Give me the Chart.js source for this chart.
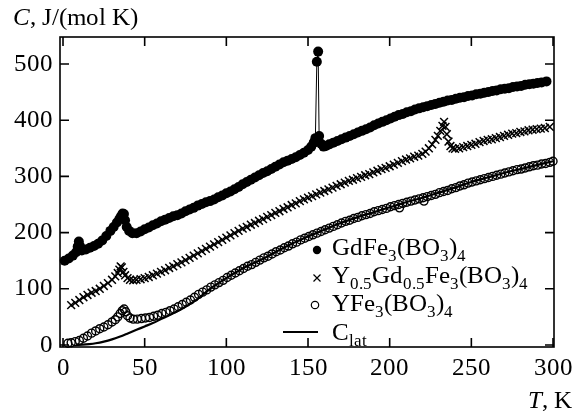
<!DOCTYPE html>
<html>
<head>
<meta charset="utf-8">
<script src="https://cdn.jsdelivr.net/npm/chart.js@4.4.0/dist/chart.umd.min.js"></script>
<style>
  @font-face { font-family: 'ChartSerif'; font-style: normal; src: local('Liberation Serif'), local('LiberationSerif'); }
  @font-face { font-family: 'ChartSerif'; font-style: italic; src: local('Liberation Serif Italic'), local('LiberationSerif-Italic'); }
  html, body { margin: 0; padding: 0; background: #fff; }
  #prime { position: absolute; left: 0; top: 0; font-family: 'ChartSerif'; font-size: 25px; color: #fff; z-index: -1; }
</style>
</head>
<body>
<span id="prime">0 <i>C</i></span>
<canvas id="heatChart" width="579" height="417"></canvas>
<script>
// tick labels
const xTicks = [0, 50, 100, 150, 200, 250, 300];
const yTicks = [0, 100, 200, 300, 400, 500];

// GdFe3(BO3)4
const tGd = [1, 3.5, 6, 8, 9, 9.7, 10.4, 11.5, 14, 16.5, 19, 21.5, 24, 26.5, 29, 31, 33, 34.5, 35.5, 36.5, 37.3, 38, 39, 40.5, 42.5,
  45, 47.5, 50, 52.5, 55, 57.5, 60, 62.5, 65, 67.5, 70, 72.5, 75, 77.5, 80, 82.5, 85, 87.5, 90, 92.5, 95, 97.5, 100,
  102.5, 105, 107.5, 110, 112.5, 115, 117.5, 120, 122.5, 125, 127.5, 130, 132.5, 135, 137.5, 140, 142.5, 145, 147.5, 150,
  152, 153.5, 154.5, 155.4, 156.2, 156.8, 158, 159.5, 161, 163, 165.5, 168, 170.5, 173, 175.5, 178, 180.5, 183, 185.5, 188,
  190.5, 193, 195.5, 198, 200.5, 203, 205.5, 208, 210.5, 213, 215.5, 218, 220.5, 223, 225.5, 228, 230.5, 233, 235.5, 238,
  240.5, 243, 245.5, 248, 250.5, 253, 255.5, 258, 260.5, 263, 265.5, 268, 270.5, 273, 275.5, 278, 280.5, 283, 285.5, 288,
  290.5, 293, 296];
const cGd = [150, 154, 159, 165, 175, 184, 176, 168, 170, 173, 176, 180, 186, 194, 203, 210, 218, 224, 229, 234, 233, 222, 210, 203, 199,
  199, 202, 206, 209, 213, 216, 220, 223, 226, 229, 231, 234, 238, 241, 244, 248, 251, 254, 256, 259, 263, 266, 270,
  273, 277, 281, 286, 290, 294, 298, 302, 306, 309, 313, 317, 321, 325, 328, 331, 334, 338, 342, 347,
  353, 360, 368, 504, 522, 372, 358, 353, 354, 357, 360, 363, 366, 369, 372, 375, 378, 381, 384, 387,
  391, 394, 397, 400, 403, 406, 409, 411, 414, 416, 419, 421, 423, 425, 427, 429, 431, 433, 435, 436,
  438, 440, 441, 443, 444, 446, 447, 449, 450, 452, 453, 455, 456, 457, 459, 460, 461, 463, 464, 465,
  466, 467, 469];

// Y0.5Gd0.5Fe3(BO3)4
const tMix = [5, 7.5, 10, 12.5, 15, 17.5, 20, 22.5, 25, 27.5, 30, 32, 33.5, 34.5, 35.3, 36, 37, 38, 39.5, 41, 43, 45, 47.5, 50,
  52.5, 55, 57.5, 60, 62.5, 65, 67.5, 70, 72.5, 75, 77.5, 80, 82.5, 85, 87.5, 90, 92.5, 95, 97.5, 100,
  102.5, 105, 107.5, 110, 112.5, 115, 117.5, 120, 122.5, 125, 127.5, 130, 132.5, 135, 137.5, 140, 142.5, 145, 147.5, 150,
  152.5, 155, 157.5, 160, 162.5, 165, 167.5, 170, 172.5, 175, 177.5, 180, 182.5, 185, 187.5, 190, 192.5, 195, 197.5, 200,
  202.5, 205, 207.5, 210, 212.5, 215, 217.5, 220, 222, 224, 226, 228, 229.5, 231, 232.3, 233.3, 234.2, 235, 236, 237.2, 238.5, 240,
  242.5, 245, 247.5, 250, 252.5, 255, 257.5, 260, 262.5, 265, 267.5, 270, 272.5, 275, 277.5, 280, 282.5, 285, 287.5, 290,
  292.5, 295, 298];
const cMix = [71, 75, 80, 85, 89, 93, 96, 100, 105, 110, 116, 122, 128, 134, 140, 138, 130, 124, 119, 116, 115, 116, 117, 119,
  121, 124, 127, 130, 133, 137, 140, 144, 147, 151, 155, 159, 163, 167, 171, 175, 179, 183, 187, 191,
  195, 199, 203, 207, 210, 214, 217, 221, 224, 228, 231, 235, 238, 242, 245, 249, 252, 256, 259, 262,
  265, 268, 271, 274, 277, 280, 283, 286, 289, 292, 294, 297, 299, 302, 304, 307, 310, 313, 315, 318,
  321, 324, 327, 330, 332, 335, 337, 340, 344, 350, 357, 365, 372, 381, 390, 397, 388, 375, 362, 354, 350, 349,
  350, 352, 354, 356, 358, 361, 363, 365, 366, 368, 370, 372, 374, 376, 377, 379, 380, 382, 383, 384,
  385, 386, 388];

// YFe3(BO3)4
const tY = [3, 5, 7.5, 10, 12.5, 15, 17.5, 20, 22.5, 25, 27.5, 30, 32, 33.5, 35, 36.3, 37.4, 38.4, 39.5, 41, 43, 45.5, 48, 50.5,
  53, 55.5, 58, 60.5, 63, 65.5, 68, 70.5, 73, 75.5, 78, 80.5, 83, 85.5, 88, 90.5, 93, 95.5, 98, 100.5,
  103, 105.5, 108, 110.5, 113, 115.5, 118, 120.5, 123, 125.5, 128, 130.5, 133, 135.5, 138, 140.5, 143, 145.5, 148, 150.5,
  153, 155.5, 158, 160.5, 163, 165.5, 168, 170.5, 173, 175.5, 178, 180.5, 183, 185.5, 188, 190.5, 193, 195.5, 198, 200.5,
  203, 205.5, 206, 208, 210.5, 213, 215.5, 218, 220.5, 221, 223, 225.5, 228, 230.5, 233, 235.5, 238, 240.5,
  243, 245.5, 248, 250.5, 253, 255.5, 258, 260.5, 263, 265.5, 268, 270.5, 273, 275.5, 278, 280.5, 283, 285.5, 288, 290.5,
  293, 295.5, 298, 300];
const cY = [3, 4, 6, 8, 12, 16, 21, 25, 29, 32, 36, 41, 45, 50, 56, 61, 64, 59, 52, 48, 46, 46, 47, 48,
  49, 51, 53, 56, 58, 61, 64, 68, 72, 76, 80, 85, 90, 94, 98, 103, 107, 111, 115, 120,
  124, 128, 132, 136, 140, 143, 147, 151, 155, 158, 162, 166, 169, 173, 176, 180, 183, 187, 190, 193,
  196, 199, 202, 205, 208, 211, 214, 217, 220, 222, 225, 227, 230, 232, 234, 237, 239, 241, 243, 246,
  248, 250, 244, 252, 254, 256, 258, 260, 262, 256, 264, 266, 268, 271, 273, 275, 278, 280,
  283, 285, 288, 290, 292, 294, 296, 298, 300, 302, 304, 306, 308, 310, 312, 313, 315, 317, 319, 320,
  322, 323, 325, 327];

// C_lat
const tLat = [8, 12, 16, 20, 25, 30, 35, 40, 45, 50, 55, 60, 65, 70, 75, 80, 85, 90, 100, 110, 120, 130, 140, 150,
  160, 170, 180, 190, 200, 210, 220, 230, 240, 250, 260, 270, 280, 290, 300];
const cLat = [0, 0.5, 1.5, 3, 6, 10, 15, 21, 27, 33, 39, 46, 53, 60, 68, 77, 88, 100, 119, 136, 150, 165, 180, 193,
  205, 217, 227, 236, 245, 254, 262, 271, 280, 290, 298, 306, 313, 320, 327];

const fam = 'ChartSerif, "Liberation Serif", serif';
Chart.defaults.font.family = fam;

function pts(xs, ys) {
  return xs.map((v, i) => ({ x: v, y: ys[i] }));
}

// text with subscripts: [text, sub, italic]
function drawRich(ctx, parts, x, y) {
  parts.forEach(([txt, sub, it]) => {
    ctx.font = (it ? 'italic ' : '') + (sub ? '17px ' : '25px ') + fam;
    ctx.fillText(txt, x, sub ? y + 6 : y);
    x += ctx.measureText(txt).width;
  });
}

const framePlugin = {
  id: 'frame',
  afterDraw(chart) {
    const { ctx, chartArea: a, scales: { x, y } } = chart;
    ctx.save();
    ctx.strokeStyle = '#000';
    ctx.fillStyle = '#000';
    ctx.lineWidth = 1.6;
    ctx.strokeRect(a.left, a.top, a.right - a.left, a.bottom - a.top);
    ctx.beginPath();
    xTicks.forEach(v => {
      const px = x.getPixelForValue(v);
      ctx.moveTo(px, a.bottom); ctx.lineTo(px, a.bottom - 9);
      ctx.moveTo(px, a.top); ctx.lineTo(px, a.top + 9);
    });
    yTicks.forEach(v => {
      const py = y.getPixelForValue(v);
      ctx.moveTo(a.left, py); ctx.lineTo(a.left + 9, py);
      ctx.moveTo(a.right, py); ctx.lineTo(a.right - 9, py);
    });
    ctx.stroke();

    // axis titles
    ctx.textBaseline = 'alphabetic';
    ctx.textAlign = 'left';
    drawRich(ctx, [['C', false, true], [', J/(mol K)']], 13, 25);
    drawRich(ctx, [['T', false, true], [', K']], 528, 408);

    // legend
    const lx = 332;
    ctx.lineWidth = 1.2;
    ctx.beginPath(); ctx.arc(317, 250, 4.2, 0, Math.PI * 2); ctx.fill();
    drawRich(ctx, [['GdFe'], ['3', true], ['(BO'], ['3', true], [')'], ['4', true]], lx, 255);

    ctx.beginPath();
    ctx.moveTo(313.5, 274.5); ctx.lineTo(320.5, 281.5);
    ctx.moveTo(320.5, 274.5); ctx.lineTo(313.5, 281.5);
    ctx.stroke();
    drawRich(ctx, [['Y'], ['0.5', true], ['Gd'], ['0.5', true], ['Fe'], ['3', true], ['(BO'], ['3', true], [')'], ['4', true]], lx, 283);

    ctx.beginPath(); ctx.arc(315, 305, 3.7, 0, Math.PI * 2); ctx.stroke();
    drawRich(ctx, [['YFe'], ['3', true], ['(BO'], ['3', true], [')'], ['4', true]], lx, 311);

    ctx.lineWidth = 2.2;
    ctx.beginPath(); ctx.moveTo(283, 332); ctx.lineTo(318, 332); ctx.stroke();
    drawRich(ctx, [['C'], ['lat', true]], lx, 340);
    ctx.restore();
  }
};

const heatChart = new Chart(document.getElementById('heatChart'), {
  type: 'scatter',
  data: {
    datasets: [
      {
        label: 'GdFe3(BO3)4',
        data: pts(tGd, cGd),
        showLine: true,
        borderColor: '#000',
        borderWidth: 1,
        backgroundColor: '#000',
        pointStyle: 'circle',
        pointRadius: 5,
        pointBorderWidth: 0,
        clip: false
      },
      {
        label: 'Y0.5Gd0.5Fe3(BO3)4',
        data: pts(tMix, cMix),
        borderColor: '#000',
        backgroundColor: '#000',
        pointStyle: 'crossRot',
        pointRadius: 5.5,
        pointBorderWidth: 1.5,
        clip: false
      },
      {
        label: 'YFe3(BO3)4',
        data: pts(tY, cY),
        borderColor: '#000',
        backgroundColor: 'rgba(0,0,0,0)',
        pointStyle: 'circle',
        pointRadius: 4,
        pointBorderWidth: 1.4,
        clip: false
      },
      {
        label: 'C_lat',
        data: pts(tLat, cLat),
        showLine: true,
        borderColor: '#000',
        borderWidth: 2.2,
        pointRadius: 0,
        tension: 0.3,
        clip: false
      }
    ]
  },
  options: {
    responsive: false,
    animation: false,
    layout: { padding: { left: 0, top: 37, right: 25, bottom: 0 } },
    plugins: {
      legend: { display: false },
      tooltip: { enabled: false }
    },
    scales: {
      x: {
        type: 'linear',
        min: -1.84,
        max: 300.6,
        grid: { display: false, drawTicks: false },
        border: { display: false },
        afterBuildTicks: s => { s.ticks = xTicks.map(v => ({ value: v })); },
        afterFit: s => { s.height = 70; },
        ticks: { color: '#000', font: { family: fam, size: 25 }, padding: 6, maxRotation: 0 }
      },
      y: {
        min: -3.6,
        max: 548,
        grid: { display: false, drawTicks: false },
        border: { display: false },
        afterBuildTicks: s => { s.ticks = yTicks.map(v => ({ value: v })); },
        afterFit: s => { s.width = 60; },
        ticks: { color: '#000', font: { family: fam, size: 25 }, padding: 7 }
      }
    }
  },
  plugins: [framePlugin]
});

// redraw once the aliased serif faces are loaded
Promise.all([
  document.fonts.load('25px ChartSerif'),
  document.fonts.load('italic 25px ChartSerif'),
  document.fonts.load('17px ChartSerif')
]).then(() => heatChart.update('none')).catch(() => heatChart.update('none'));
</script>
</body>
</html>
